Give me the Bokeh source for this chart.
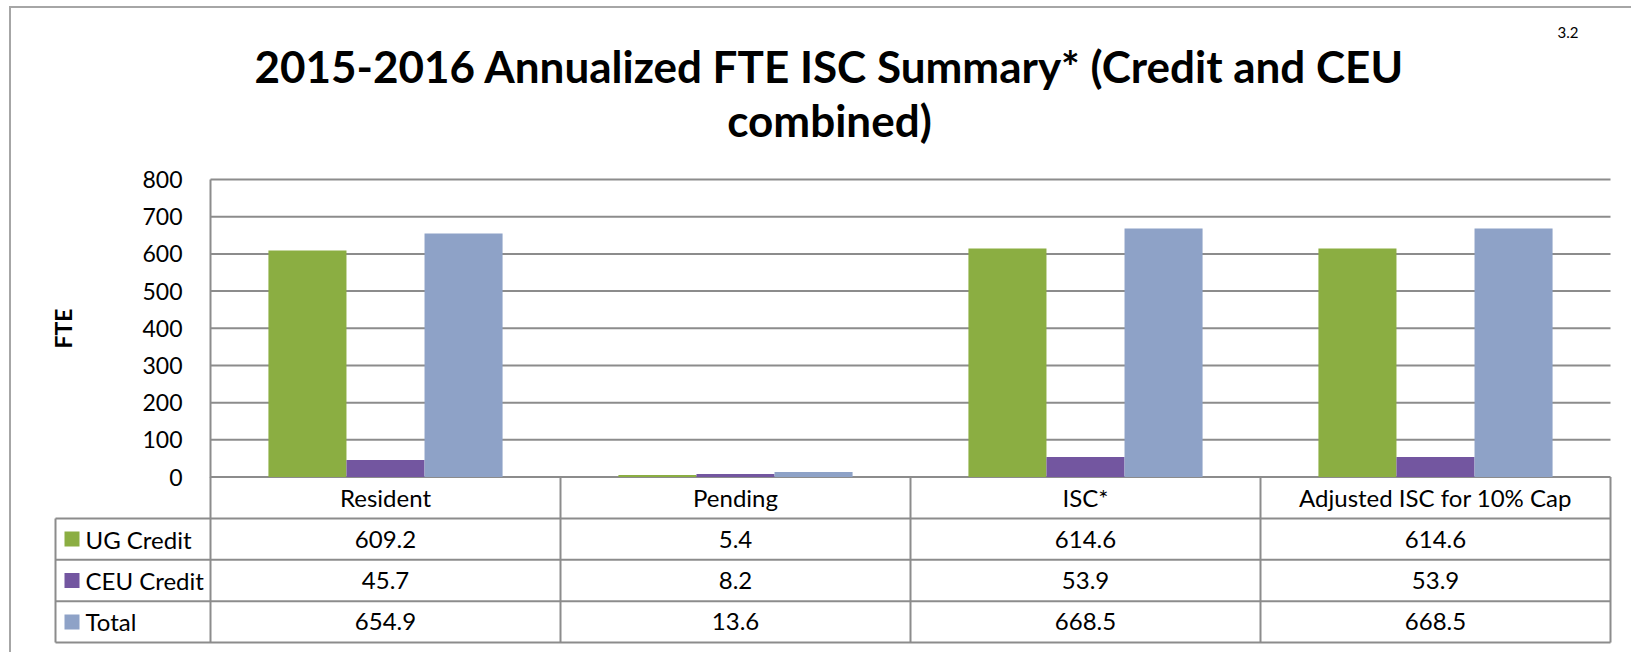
from bokeh.plotting import figure
from bokeh.models import ColumnDataSource, FixedTicker, Range1d, Title
from bokeh.core.properties import value
from bokeh.embed import file_html
from bokeh.resources import INLINE

# ---------------- data ----------------
categories = ["Resident", "Pending", "ISC*", "Adjusted ISC for 10% Cap"]
series_names = ["UG Credit", "CEU Credit", "Total"]
ug_credit = [609.2, 5.4, 614.6, 614.6]
ceu_credit = [45.7, 8.2, 53.9, 53.9]
total = [654.9, 13.6, 668.5, 668.5]
y_ticks = [0, 100, 200, 300, 400, 500, 600, 700, 800]
title_line1 = "2015-2016 Annualized FTE ISC Summary* (Credit and CEU"
title_line2 = "combined)"
page_number = "3.2"
y_label = "FTE"

# ---------------- style ----------------
series_values = [ug_credit, ceu_credit, total]
series_colors = ["#8bae42", "#7356a0", "#8ea2c7"]
FONT = "Lato"
GRID_COLOR = "#8c8c8c"
TXT = "24px"

W, H = 1631, 652
n = len(categories)
ymax = y_ticks[-1]
CAT_PX = 350.0                     # pixel width of one category
X0_PX = 210.0                      # pixel position of the first category edge
Y0_PX, YMAX_PX = 476.5, 179.0      # pixel rows of value 0 and of value ymax
k = (Y0_PX - YMAX_PX) / ymax       # px per data unit (y)
row_h = 41.4 / k                   # table row height in data units
legend_w = (X0_PX - 55) / CAT_PX   # legend column width (category width = 1)
bar_w = 0.223
offsets = [-bar_w, 0.0, bar_w]

FL, FR, FT, FB = 44, 1614, 145, 645    # frame edges in pixels
x_start = -(X0_PX - FL) / CAT_PX
x_end = n + (FR - (X0_PX + n * CAT_PX)) / CAT_PX
y_end = ymax + (YMAX_PX - FT) / k
y_start = -(FB - Y0_PX) / k

p = figure(width=W, height=H,
           x_range=Range1d(x_start, x_end), y_range=Range1d(y_start, y_end),
           output_backend="svg", toolbar_location=None,
           min_border_left=FL, min_border_right=W - FR, min_border_top=FT,
           min_border_bottom=H - FB)
p.outline_line_color = None
p.border_fill_color = None
p.background_fill_color = "white"
p.styles = {"box-shadow": "inset 9px 6px 0 0 white, inset 11px 8px 0 0 #a6a6a6"}

for txt in (title_line2, title_line1):
    p.add_layout(Title(text=txt, align="center", text_font=FONT, text_font_size="44px",
                       text_font_style="bold", text_color="black", standoff=0), "above")
p.add_layout(Title(text=page_number, align="right", offset=36, text_font=FONT,
                   text_font_size="15px", text_font_style="normal", text_color="black",
                   standoff=0), "above")

p.xaxis.visible = False
p.xgrid.visible = False
p.ygrid.visible = False

ax = p.yaxis[0]
ax.fixed_location = 0
ax.ticker = FixedTicker(ticks=y_ticks)
ax.bounds = (0, ymax)
ax.axis_line_color = GRID_COLOR
ax.axis_line_width = 2
ax.major_tick_line_color = None
ax.minor_tick_line_color = None
ax.major_tick_out = 0
ax.major_tick_in = 0
ax.major_label_standoff = 28
ax.major_label_text_font = FONT
ax.major_label_text_font_size = "23px"
ax.major_label_text_color = "black"
ax.axis_label = y_label
ax.axis_label_text_font = FONT
ax.axis_label_text_font_size = "23px"
ax.axis_label_text_font_style = "bold"
ax.axis_label_text_color = "black"
ax.axis_label_standoff = 62

# gridlines (only over the category area)
p.segment(x0=0, x1=n, y0=y_ticks, y1=y_ticks, line_color=GRID_COLOR, line_width=2)

# bars
for s, (vals, col) in enumerate(zip(series_values, series_colors)):
    src = ColumnDataSource(dict(x=[i + 0.5 + offsets[s] for i in range(n)], top=vals,
                                cat=categories, series=[series_names[s]] * n))
    p.vbar(x="x", top="top", bottom=0, width=bar_w, source=src,
           fill_color=col, line_color=None)

# table grid lines
h_y = [-row_h * j for j in range(1, 5)]
p.segment(x0=-legend_w, x1=n, y0=h_y, y1=h_y, line_color=GRID_COLOR, line_width=2)
p.segment(x0=[-legend_w], x1=[-legend_w], y0=[-row_h], y1=[-4 * row_h],
          line_color=GRID_COLOR, line_width=2)
p.segment(x0=list(range(n + 1)), x1=list(range(n + 1)), y0=0, y1=-4 * row_h,
          line_color=GRID_COLOR, line_width=2)

# header row
hdr = ColumnDataSource(dict(x=[i + 0.5 for i in range(n)], y=[-row_h / 2] * n, t=categories))
p.text(x="x", y="y", text="t", source=hdr, text_align="center", text_baseline="middle",
       text_font=value(FONT), text_font_size=TXT, text_color="black")

# value rows
xs, ys, ts = [], [], []
for r, vals in enumerate(series_values):
    for i, v in enumerate(vals):
        xs.append(i + 0.5)
        ys.append(-row_h * (r + 1.5))
        ts.append(f"{v:.1f}")
p.text(x=xs, y=ys, text=ts, text_align="center", text_baseline="middle",
       text_font=value(FONT), text_font_size=TXT, text_color="black")

# legend column
row_y = [-row_h * (r + 1.5) for r in range(len(series_names))]
p.scatter(x=[-legend_w + 16.5 / CAT_PX] * 3, y=row_y, marker="square", size=15,
          fill_color=series_colors, line_color=None)
p.text(x=[-legend_w + 30 / CAT_PX] * 3, y=row_y, text=series_names, text_align="left",
       text_baseline="middle", text_font=value(FONT), text_font_size=TXT, text_color="black")

open("out.html", "w").write(file_html(p, INLINE))
